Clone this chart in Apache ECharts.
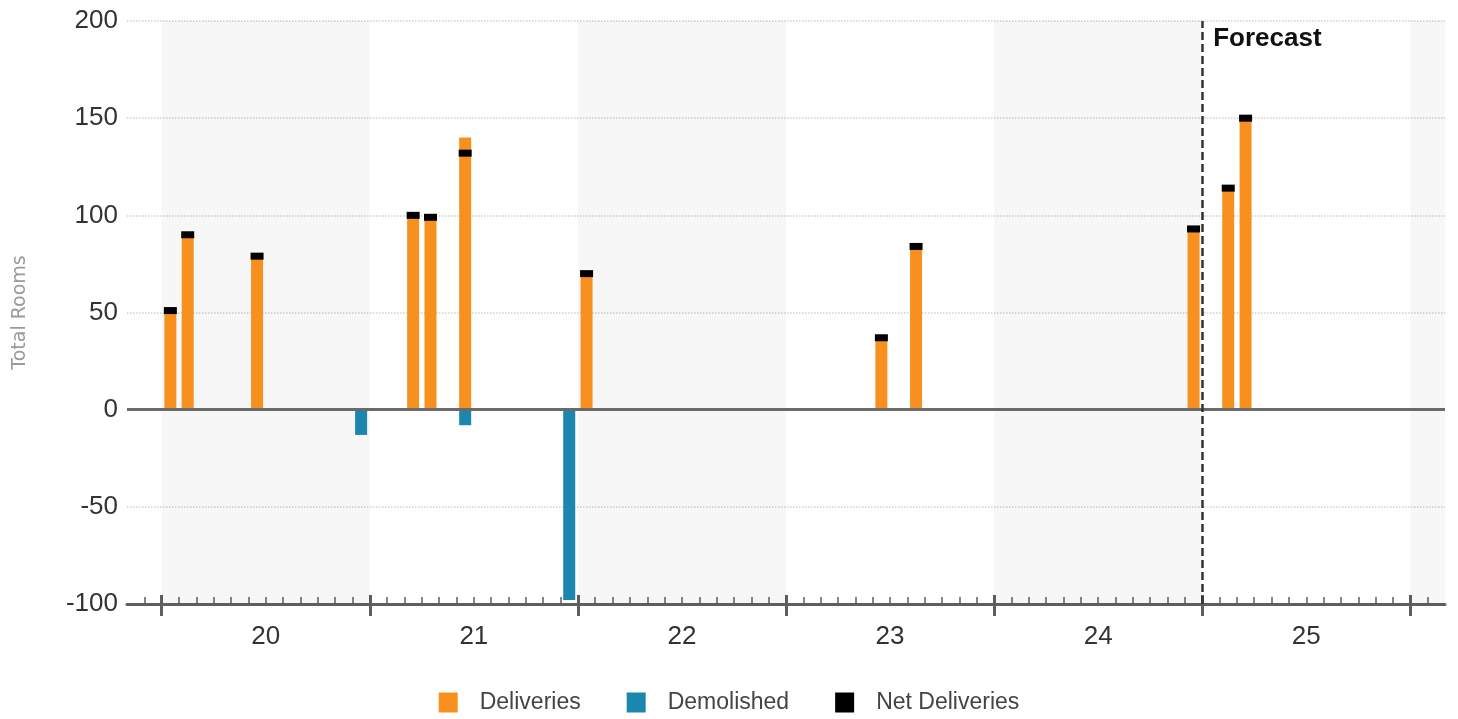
<!DOCTYPE html>
<html>
<head>
<meta charset="utf-8">
<title>Hotel Rooms Deliveries</title>
<script src="https://cdn.jsdelivr.net/npm/echarts@6/dist/echarts.min.js"></script>
<style>
  html, body { margin: 0; padding: 0; background: #ffffff; }
  #chart { width: 1458px; height: 719px; }
</style>
</head>
<body>
<div id="chart"></div>
<script>
// Year labels shown under each yearly band (20 = 2020 ... 25 = 2025)
const yearLabels = ['20', '21', '22', '23', '24', '25'];

// Months counted from January 2020 (0 = Jan 2020)
const barMonths = [0, 1, 5, 11, 14, 15, 17, 23, 24, 41, 43, 59, 61, 62];

// Rooms delivered, demolished and net per month
const deliveries    = [51, 90, 79, null, 100, 99, 140, null, 70, 37, 84, 93, 114, 150];
const demolished    = [null, null, null, -13, null, null, -8, -98, null, null, null, null, null, null];
const netDeliveries = [51, 90, 79, null, 100, 99, 132, null, 70, 37, 84, 93, 114, 150];

// Forecast period starts in January 2025
const forecastStartMonth = 60;

// Axis range: from Nov 2019 to Feb 2026
const monthMin = -2;
const monthMax = 74;

const FONT = '"Liberation Sans", Arial, Helvetica, sans-serif';

function toPoints(values) {
  const out = [];
  barMonths.forEach((m, i) => {
    if (values[i] !== null && values[i] !== undefined) out.push([m + 0.5, values[i]]);
  });
  return out;
}

const majorTicks = [];
for (let m = 0; m <= 72; m += 12) majorTicks.push(m);
const minorTicks = [];
for (let m = monthMin + 1; m < monthMax; m++) minorTicks.push(m);
const labelPositions = yearLabels.map((_, i) => i * 12 + 6);

// Shaded bands on alternating years
const bandRanges = [[0, 12], [24, 36], [48, 60], [72, 74]];

const chart = echarts.init(document.getElementById('chart'), null, { renderer: 'canvas' });

const baseXAxis = {
  type: 'value',
  min: monthMin,
  max: monthMax,
  position: 'bottom',
  splitLine: { show: false }
};

const option = {
  animation: false,
  backgroundColor: '#ffffff',
  grid: { left: 127, right: 13, top: 21, bottom: 115, containLabel: false, outerBoundsMode: 'none' },
  legend: {
    bottom: 0,
    left: 'center',
    icon: 'rect',
    itemWidth: 19,
    itemHeight: 20,
    itemGap: 46,
    textStyle: { fontFamily: FONT, fontSize: 23, color: '#444444', padding: [0, 0, 0, 17] },
    data: ['Deliveries', 'Demolished', 'Net Deliveries']
  },
  xAxis: [
    Object.assign({}, baseXAxis, {
      axisLine: { show: true, onZero: false, lineStyle: { color: '#5f5f5f', width: 3 } },
      axisTick: { show: true, customValues: majorTicks, length: 12, lineStyle: { color: '#5f5f5f', width: 3 } },
      axisLabel: {
        show: true,
        customValues: labelPositions,
        formatter: (v) => yearLabels[Math.round((v - 6) / 12)],
        fontFamily: FONT, fontSize: 26, color: '#333333', margin: 20
      }
    }),
    Object.assign({}, baseXAxis, {
      axisLine: { show: false, onZero: false },
      axisTick: { show: true, inside: true, customValues: minorTicks, length: 7, lineStyle: { color: '#5f5f5f', width: 1.5 } },
      axisLabel: { show: false }
    }),
    Object.assign({}, baseXAxis, {
      axisLine: { show: false, onZero: false },
      axisTick: { show: true, inside: true, customValues: majorTicks, length: 9, lineStyle: { color: '#5f5f5f', width: 3 } },
      axisLabel: { show: false }
    })
  ],
  yAxis: {
    type: 'value',
    min: -100,
    max: 200,
    interval: 50,
    name: 'Total Rooms',
    nameLocation: 'middle',
    nameRotate: 90,
    nameGap: 97,
    nameTextStyle: { fontFamily: '"DejaVu Sans", sans-serif', fontSize: 19, color: '#9a9a9a' },
    axisLine: { show: false },
    axisTick: { show: false },
    axisLabel: { fontFamily: FONT, fontSize: 26, color: '#333333', margin: 9 },
    splitLine: { show: true, lineStyle: { color: '#cfcfcf', width: 1.5, type: 'dotted' } }
  },
  series: [
    {
      name: 'bands',
      type: 'line',
      data: [],
      silent: true,
      z: 0,
      markArea: {
        silent: true,
        itemStyle: { color: 'rgba(0,0,0,0.032)' },
        data: bandRanges.map(r => [{ xAxis: r[0] }, { xAxis: r[1] }])
      }
    },
    {
      name: 'Deliveries',
      type: 'bar',
      barWidth: 12,
      barGap: '-100%',
      itemStyle: { color: '#F7901E' },
      data: toPoints(deliveries),
      z: 2,
      markLine: {
        silent: true,
        symbol: 'none',
        label: { show: false },
        data: [
          { yAxis: 0, lineStyle: { color: '#6a6a6a', width: 3, type: 'solid' } },
          { xAxis: forecastStartMonth, lineStyle: { color: '#333333', width: 2.5, type: [8, 4] } }
        ]
      }
    },
    {
      name: 'Demolished',
      type: 'bar',
      barWidth: 12,
      barGap: '-100%',
      itemStyle: { color: '#1B86AE' },
      data: toPoints(demolished),
      z: 2
    },
    {
      name: 'Net Deliveries',
      type: 'scatter',
      symbol: 'rect',
      symbolSize: [13, 7],
      itemStyle: { color: '#000000', opacity: 1 },
      data: toPoints(netDeliveries),
      z: 4
    }
  ]
};

chart.setOption(option);

// "Forecast" caption placed just right of the forecast divider
const topLeft = chart.convertToPixel({ xAxisIndex: 0, yAxisIndex: 0 }, [forecastStartMonth, 200]);
chart.setOption({
  graphic: [{
    type: 'text',
    left: topLeft[0] + 11,
    top: topLeft[1] + 5,
    silent: true,
    style: {
      text: 'Forecast',
      fontFamily: FONT,
      fontWeight: 'bold',
      fontSize: 26,
      fill: '#111111'
    }
  }]
});
</script>
</body>
</html>
